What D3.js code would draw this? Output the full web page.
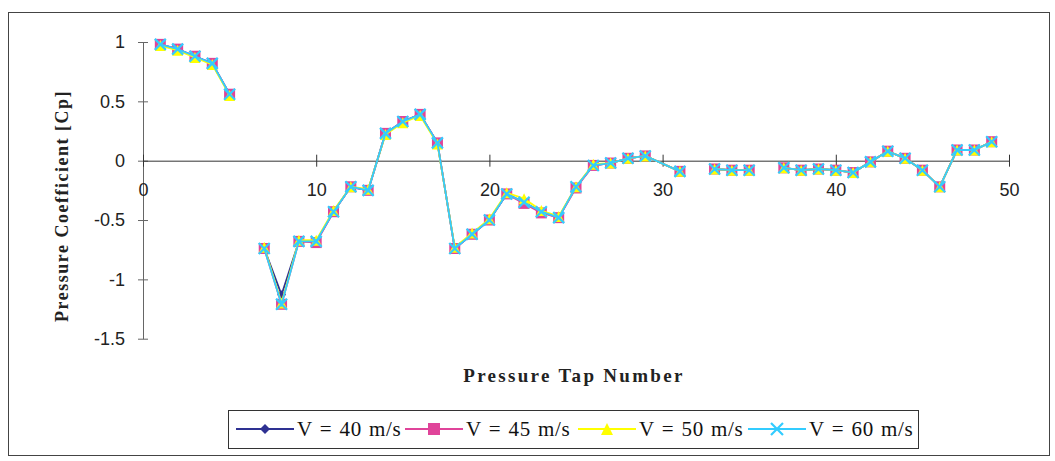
<!DOCTYPE html>
<html>
<head>
<meta charset="utf-8">
<script src="https://cdn.jsdelivr.net/npm/d3@7"></script>
<style>
  html, body { margin: 0; padding: 0; background: #fff; }
  svg { display: block; }
</style>
</head>
<body>
<svg id="chart" width="1055" height="461"></svg>
<script>
// ---------------- data ----------------
const taps = [1,2,3,4,5,6,7,8,9,10,11,12,13,14,15,16,17,18,19,20,21,22,23,24,25,26,27,28,29,31,32,33,34,35,36,37,38,39,40,41,42,43,44,45,46,47,48,49];
const cp40 = [0.98,0.94,0.88,0.82,0.56,null,-0.74,-1.13,-0.68,-0.68,-0.43,-0.22,-0.25,0.23,0.33,0.39,0.15,-0.74,-0.62,-0.50,-0.28,-0.35,-0.43,-0.48,-0.22,-0.04,-0.02,0.02,0.04,-0.09,null,-0.07,-0.08,-0.08,null,-0.06,-0.08,-0.07,-0.08,-0.10,-0.01,0.08,0.02,-0.08,-0.22,0.09,0.09,0.16];
const cp45 = [0.98,0.94,0.88,0.82,0.56,null,-0.74,-1.21,-0.68,-0.69,-0.43,-0.22,-0.25,0.23,0.33,0.39,0.15,-0.74,-0.62,-0.50,-0.28,-0.36,-0.44,-0.48,-0.23,-0.04,-0.02,0.02,0.04,-0.09,null,-0.07,-0.08,-0.08,null,-0.06,-0.08,-0.07,-0.08,-0.10,-0.01,0.08,0.02,-0.08,-0.22,0.09,0.09,0.16];
const cp50 = [0.97,0.93,0.87,0.81,0.55,null,-0.73,-1.20,-0.67,-0.67,-0.42,-0.22,-0.24,0.22,0.32,0.38,0.14,-0.73,-0.61,-0.49,-0.27,-0.32,-0.42,-0.47,-0.22,-0.03,-0.02,0.02,0.04,-0.09,null,-0.07,-0.08,-0.08,null,-0.06,-0.08,-0.07,-0.08,-0.10,-0.01,0.08,0.02,-0.08,-0.22,0.09,0.09,0.16];
const cp60 = [0.98,0.94,0.88,0.82,0.56,null,-0.74,-1.21,-0.68,-0.68,-0.43,-0.22,-0.25,0.23,0.33,0.39,0.15,-0.74,-0.62,-0.50,-0.28,-0.35,-0.43,-0.48,-0.22,-0.04,-0.02,0.02,0.04,-0.09,null,-0.07,-0.08,-0.08,null,-0.06,-0.08,-0.07,-0.08,-0.10,-0.01,0.08,0.02,-0.08,-0.22,0.09,0.09,0.16];
const seriesNames = ["V = 40 m/s","V = 45 m/s","V = 50 m/s","V = 60 m/s"];
const xTicks = [0,10,20,30,40,50];
const yTicks = [-1.5,-1,-0.5,0,0.5,1];
const xTitle = "Pressure Tap Number";
const yTitle = "Pressure Coefficient [Cp]";

// ---------------- styles ----------------
const colors = ["#2E3192","#E0449A","#FFFF00","#33CCFF"];
const shapes = ["diamond","square","triangle","x"];
const allSeries = [cp40,cp45,cp50,cp60];

const svg = d3.select("#chart");

// outer frame
svg.append("rect").attr("x",8.5).attr("y",12.5).attr("width",1041).attr("height",443)
  .attr("fill","#fff").attr("stroke","#444").attr("stroke-width",1);

const x = d3.scaleLinear().domain([0,50]).range([143,1009]);
const y = d3.scaleLinear().domain([-1.5,1]).range([338.7,42]);

// y axis
const yAxis = svg.append("g").attr("transform",`translate(${x(0)},0)`)
  .call(d3.axisLeft(y).tickValues(yTicks).tickFormat(d => String(d)).tickSizeInner(5).tickSizeOuter(0).tickPadding(13));
yAxis.select(".domain").attr("stroke","#666");
yAxis.selectAll(".tick line").attr("x1",-5).attr("x2",5).attr("stroke","#666");
yAxis.selectAll(".tick text").attr("font-family","Liberation Sans, Arial, sans-serif").attr("font-size",18).attr("fill","#222");

// x axis at y = 0
const xAxis = svg.append("g").attr("transform",`translate(0,${y(0)})`)
  .call(d3.axisBottom(x).tickValues(xTicks).tickFormat(d => String(d)).tickSizeInner(5).tickSizeOuter(0).tickPadding(18));
xAxis.select(".domain").attr("stroke","#333");
xAxis.selectAll(".tick line").attr("y1",-6).attr("y2",6).attr("stroke","#333");
xAxis.selectAll(".tick text").attr("font-family","Liberation Sans, Arial, sans-serif").attr("font-size",18).attr("fill","#222");

// axis titles
svg.append("text").attr("x",574).attr("y",382).attr("text-anchor","middle")
  .attr("font-family","Liberation Serif, Times New Roman, serif").attr("font-weight","bold")
  .attr("font-size",19).attr("letter-spacing",2.3).attr("fill","#222").text(xTitle);
svg.append("text").attr("transform","translate(68,206) rotate(-90)").attr("text-anchor","middle")
  .attr("font-family","Liberation Serif, Times New Roman, serif").attr("font-weight","bold")
  .attr("font-size",18).attr("letter-spacing",1.5).attr("fill","#222").text(yTitle);

// marker drawing
function drawMarker(g, shape, color, s) {
  if (shape === "square") {
    g.append("rect").attr("x",-s/2).attr("y",-s/2).attr("width",s).attr("height",s).attr("fill",color);
  } else if (shape === "triangle") {
    g.append("path").attr("d",`M0,${-s/2}L${s/2},${s/2}L${-s/2},${s/2}Z`).attr("fill",color);
  } else if (shape === "diamond") {
    g.append("path").attr("d",`M0,${-s/2}L${s/2},0L0,${s/2}L${-s/2},0Z`).attr("fill",color);
  } else if (shape === "x") {
    g.append("path").attr("d",`M${-s/2},${-s/2}L${s/2},${s/2}M${s/2},${-s/2}L${-s/2},${s/2}`)
      .attr("stroke",color).attr("stroke-width",2.2).attr("fill","none");
  }
}

const line = d3.line()
  .defined(d => d.v !== null)
  .x(d => x(d.t)).y(d => y(d.v));

allSeries.forEach((vals, i) => {
  const pts = taps.map((t, k) => ({t, v: vals[k]}));
  const g = svg.append("g");
  g.append("path").datum(pts).attr("d", line).attr("fill","none")
    .attr("stroke", colors[i]).attr("stroke-width", 1.8);
  pts.filter(d => d.v !== null).forEach(d => {
    const mg = g.append("g").attr("transform",`translate(${x(d.t)},${y(d.v)})`);
    drawMarker(mg, shapes[i], colors[i], i === 0 ? 9 : 11);
  });
});

// legend
const lg = svg.append("g");
lg.append("rect").attr("x",228.5).attr("y",410.5).attr("width",690).attr("height",38)
  .attr("fill","#fff").attr("stroke","#333").attr("stroke-width",1);
const legendX = [236, 405, 578, 748];
seriesNames.forEach((name, i) => {
  const gx = legendX[i];
  const e = lg.append("g").attr("transform",`translate(${gx},429)`);
  e.append("line").attr("x1",0).attr("x2",58).attr("y1",0).attr("y2",0)
    .attr("stroke",colors[i]).attr("stroke-width",1.8);
  const mg = e.append("g").attr("transform","translate(29,0)");
  drawMarker(mg, shapes[i], colors[i], i === 0 ? 10 : 12);
  e.append("text").attr("x",61).attr("y",7).attr("font-family","Liberation Serif, Times New Roman, serif")
    .attr("font-size",21).attr("letter-spacing",0.6).attr("word-spacing",1.5)
    .attr("fill","#111").attr("xml:space","preserve").text(name);
});
</script>
</body>
</html>
